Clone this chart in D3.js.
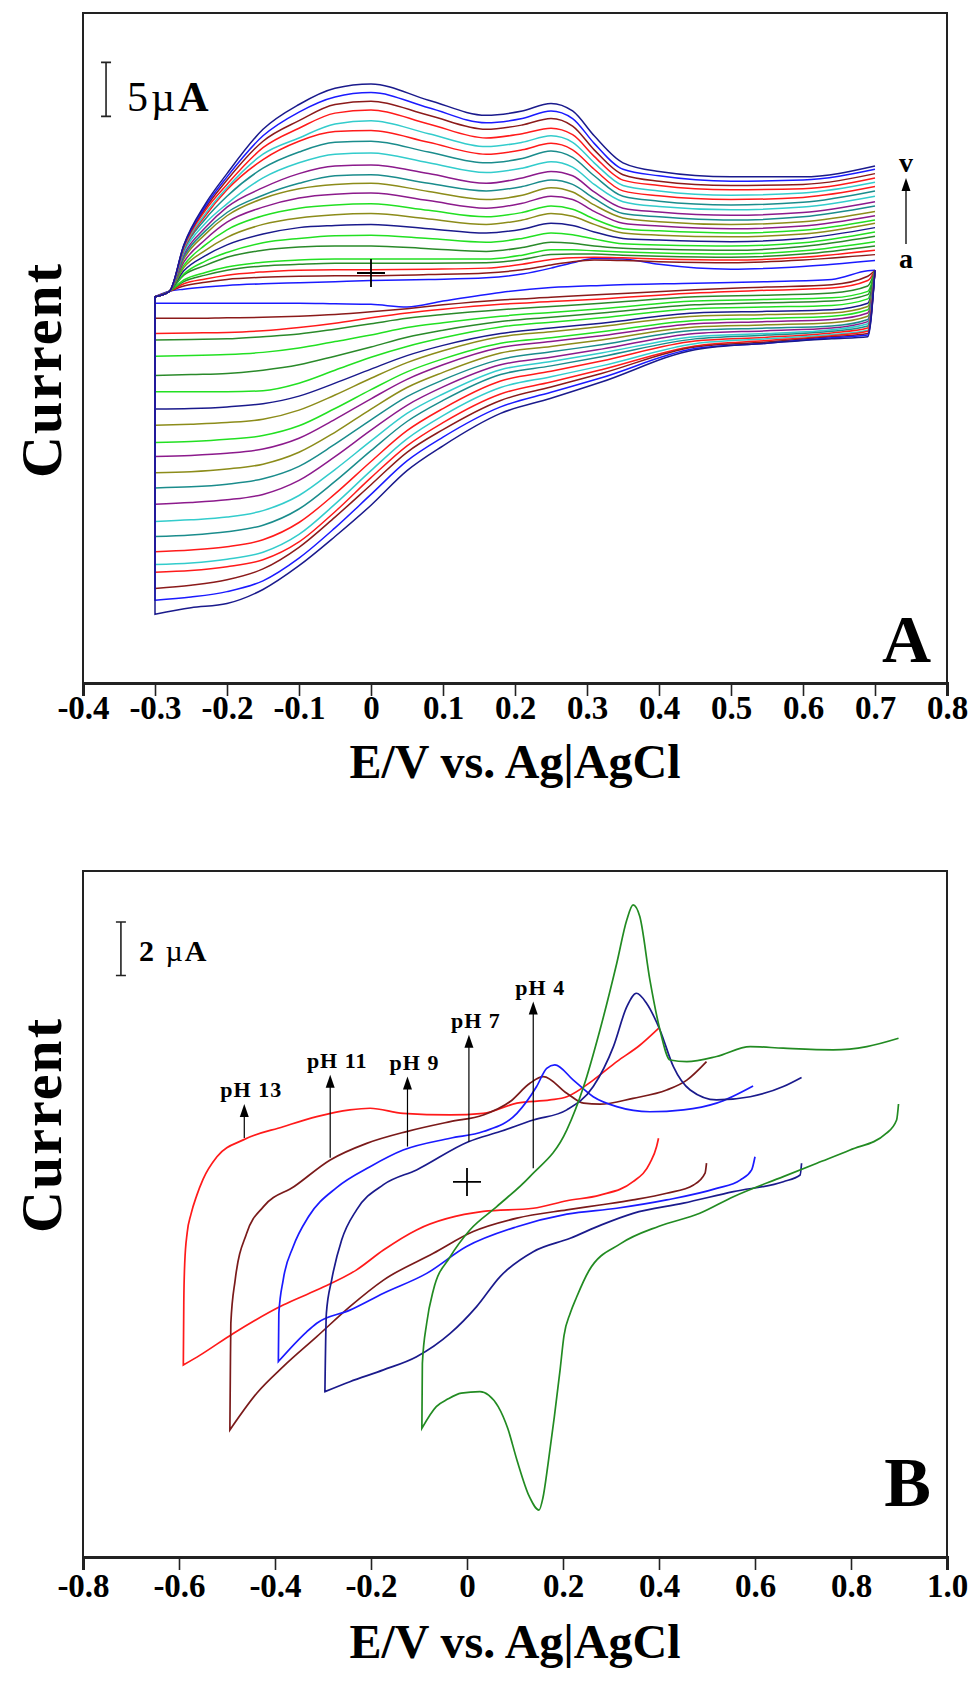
<!DOCTYPE html>
<html>
<head>
<meta charset="utf-8">
<script src="https://cdn.jsdelivr.net/npm/d3@7"></script>
<style>
  body { margin: 0; background: #fff; }
  svg text { font-family: "Liberation Serif", "Times New Roman", serif; font-weight: bold; fill: #000; }
</style>
</head>
<body>
<svg id="chart" width="972" height="1681"></svg>
<script>
// ---------- panel A : CVs at increasing scan rate (curves a ... v) ----------
var scanNames = ["a","b","c","d","e","f","g","h","i","j","k","l","m","n","o","p","q","r","s","t","u","v"];
var scanColors = ["#1a1aff","#8b1a1a","#ff1a1a","#2a8a2a","#22e022","#2a8a2a","#22e022","#1a1a8c","#8c8c1a","#22e022","#8c1a8c",
                  "#8c8c1a","#1a8c8c","#8c1a8c","#33cccc","#1a8c8c","#ff1a1a","#33cccc","#ff1a1a","#8b1a1a","#1a1aff","#1a1a8c"];

// potentials (V) of the forward (anodic) sweep and of the return (cathodic) sweep
var anodicE = [-0.30,-0.28,-0.26,-0.23,-0.20,-0.15,-0.10,-0.05,0.00,0.08,0.16,0.21,0.25,0.28,0.31,0.35,0.40,0.50,0.60,0.70];
var cathodicE = [-0.30,-0.25,-0.20,-0.15,-0.10,-0.05,0.00,0.05,0.10,0.18,0.25,0.32,0.45,0.55,0.64,0.69,0.70];

// currents (uA), one row per curve
var anodicI = [
  [-2.2,-1.7,-1.5,-1.3,-1.15,-1.0,-0.9,-0.8,-0.7,-0.6,-0.45,-0.1,0.45,0.95,1.35,1.3,0.8,0.35,0.6,1.15],
  [-2.2,-1.7,-1.2,-0.85,-0.6,-0.4,-0.3,-0.25,-0.25,-0.15,0.0,0.3,0.75,1.05,1.2,1.15,1.05,0.95,1.2,1.7],
  [-2.2,-1.7,-1.0,-0.55,-0.2,0.1,0.25,0.3,0.3,0.35,0.45,0.8,1.25,1.4,1.45,1.4,1.3,1.2,1.45,2.1],
  [-2.2,-1.7,-0.8,-0.2,0.25,0.65,0.8,0.9,0.9,0.9,0.95,1.25,1.7,1.75,1.75,1.65,1.55,1.45,1.75,2.5],
  [-2.2,-1.7,-0.65,0.05,0.55,1.0,1.2,1.3,1.3,1.3,1.3,1.65,2.15,2.15,2.05,1.95,1.85,1.75,2.05,2.9],
  [-2.2,-1.7,-0.2,0.7,1.45,2.1,2.4,2.5,2.5,2.25,2.0,2.35,2.85,2.75,2.5,2.3,2.2,2.1,2.45,3.4],
  [-2.2,-1.7,-0.1,1.1,1.9,2.8,3.2,3.45,3.5,3.2,2.85,3.2,3.7,3.55,3.15,2.7,2.6,2.5,2.8,3.8],
  [-2.2,-1.7,0.2,1.6,2.6,3.6,4.2,4.4,4.5,4.1,3.7,4.05,4.6,4.4,3.8,3.2,3.05,2.9,3.2,4.2],
  [-2.2,-1.7,0.5,2.1,3.3,4.5,5.1,5.4,5.5,5.0,4.5,4.9,5.5,5.25,4.5,3.7,3.5,3.35,3.6,4.6],
  [-2.2,-1.7,0.7,2.6,4.0,5.3,6.0,6.3,6.4,5.8,5.2,5.6,6.2,5.9,5.0,4.1,3.9,3.7,3.95,4.9],
  [-2.2,-1.7,1.0,3.1,4.7,6.1,6.95,7.3,7.4,6.7,6.0,6.45,7.1,6.8,5.7,4.6,4.35,4.1,4.35,5.3],
  [-2.2,-1.7,1.3,3.6,5.3,6.9,7.8,8.2,8.3,7.55,6.8,7.2,7.9,7.5,6.3,5.1,4.75,4.5,4.75,5.7],
  [-2.2,-1.7,1.5,3.9,5.6,7.2,8.3,9.0,9.1,8.3,7.6,8.0,8.6,8.2,6.9,5.5,5.2,4.9,5.2,6.2],
  [-2.2,-1.7,1.7,4.2,6.1,7.9,9.2,9.9,10.0,9.2,8.3,8.8,9.4,9.0,7.5,6.0,5.65,5.35,5.6,6.6],
  [-2.2,-1.7,1.9,4.6,6.4,8.8,10.2,11.0,11.1,10.2,9.3,9.7,10.3,9.8,8.2,6.6,6.15,5.85,6.1,7.1],
  [-2.2,-1.7,2.1,5.0,7.1,9.7,11.2,12.1,12.2,11.2,10.2,10.6,11.3,10.7,9.0,7.1,6.65,6.3,6.55,7.6],
  [-2.2,-1.7,2.2,5.3,7.7,10.5,12.2,13.1,13.2,12.1,11.0,11.4,12.0,11.4,9.6,7.6,7.15,6.8,7.0,8.0],
  [-2.2,-1.7,2.3,5.5,7.9,11.0,12.5,13.8,14.1,12.9,11.7,12.1,12.7,12.1,10.2,8.1,7.6,7.2,7.4,8.4],
  [-2.2,-1.7,2.4,5.8,8.2,11.6,13.4,14.8,15.1,13.8,12.5,12.9,13.4,12.8,10.8,8.6,8.1,7.7,7.8,8.8],
  [-2.2,-1.7,2.5,6.0,8.6,12.2,14.1,15.6,15.9,14.6,13.3,13.7,14.3,13.6,11.4,9.1,8.5,8.1,8.2,9.2],
  [-2.2,-1.7,2.55,6.2,8.9,12.7,14.9,16.3,16.7,15.3,13.9,14.3,15.0,14.3,12.0,9.6,9.0,8.5,8.6,9.6],
  [-2.2,-1.7,2.6,6.4,9.2,13.3,15.6,17.1,17.5,16.0,14.6,15.0,15.7,15.0,12.7,10.2,9.4,8.9,8.9,9.9]
];
var cathodicI = [
  [-2.8,-2.8,-2.8,-2.8,-2.8,-2.85,-2.9,-3.15,-2.6,-1.8,-1.35,-1.15,-0.95,-0.8,-0.6,0.2,0.25],
  [-4.2,-4.2,-4.15,-4.1,-4.0,-3.85,-3.6,-3.3,-2.95,-2.5,-2.25,-2.0,-1.55,-1.3,-1.08,-0.3,0.25],
  [-5.6,-5.55,-5.5,-5.35,-5.05,-4.65,-4.15,-3.7,-3.35,-2.9,-2.65,-2.4,-1.85,-1.6,-1.4,-0.7,0.25],
  [-6.2,-6.15,-6.1,-5.9,-5.65,-5.2,-4.7,-4.2,-3.85,-3.4,-3.1,-2.8,-2.2,-2.05,-1.85,-1.2,0.25],
  [-7.7,-7.65,-7.55,-7.35,-6.95,-6.35,-5.75,-5.05,-4.6,-4.0,-3.65,-3.3,-2.6,-2.45,-2.3,-1.7,0.25],
  [-9.5,-9.4,-9.3,-9.0,-8.5,-7.7,-6.85,-5.95,-5.3,-4.5,-4.1,-3.7,-2.95,-2.75,-2.6,-2.0,0.25],
  [-11.0,-11.0,-11.0,-10.9,-10.2,-9.0,-7.8,-6.8,-6.0,-5.0,-4.55,-4.15,-3.3,-3.15,-3.0,-2.4,0.25],
  [-12.6,-12.55,-12.4,-12.1,-11.4,-10.2,-8.9,-7.65,-6.7,-5.6,-5.1,-4.65,-3.7,-3.55,-3.4,-2.8,0.25],
  [-14.1,-14.0,-13.85,-13.55,-12.7,-11.3,-9.75,-8.3,-7.2,-5.9,-5.45,-4.95,-4.0,-3.85,-3.7,-3.1,0.25],
  [-15.7,-15.6,-15.4,-15.05,-14.15,-12.55,-10.8,-9.15,-7.95,-6.5,-6.0,-5.45,-4.4,-4.2,-4.0,-3.4,0.25],
  [-17.0,-16.9,-16.7,-16.3,-15.3,-13.55,-11.65,-9.85,-8.5,-6.9,-6.35,-5.8,-4.7,-4.5,-4.3,-3.7,0.25],
  [-18.5,-18.4,-18.15,-17.7,-16.6,-14.75,-12.6,-10.6,-9.2,-7.4,-6.8,-6.2,-5.0,-4.8,-4.6,-4.0,0.25],
  [-19.9,-19.8,-19.55,-19.05,-17.9,-15.85,-13.6,-11.45,-9.9,-8.0,-7.3,-6.65,-5.3,-5.1,-4.9,-4.3,0.25],
  [-21.4,-21.25,-21.0,-20.5,-19.2,-17.0,-14.55,-12.25,-10.55,-8.5,-7.8,-7.05,-5.6,-5.35,-5.1,-4.5,0.25],
  [-23.0,-22.85,-22.6,-22.0,-20.6,-18.2,-15.55,-13.0,-11.2,-8.95,-8.2,-7.4,-5.9,-5.6,-5.25,-4.7,0.25],
  [-24.4,-24.25,-23.95,-23.35,-21.85,-19.3,-16.45,-13.75,-11.8,-9.4,-8.6,-7.75,-6.1,-5.75,-5.4,-4.9,0.25],
  [-25.8,-25.65,-25.35,-24.7,-23.1,-20.45,-17.45,-14.6,-12.55,-10.0,-9.1,-8.15,-6.3,-5.95,-5.55,-5.1,0.25],
  [-27.0,-26.85,-26.5,-25.85,-24.2,-21.4,-18.3,-15.35,-13.2,-10.6,-9.6,-8.6,-6.55,-6.1,-5.7,-5.3,0.25],
  [-27.7,-27.55,-27.2,-26.55,-24.9,-22.1,-18.95,-16.0,-13.85,-11.2,-10.1,-8.95,-6.75,-6.25,-5.8,-5.4,0.25],
  [-29.2,-28.9,-28.4,-27.4,-25.4,-22.6,-19.6,-16.6,-14.5,-11.8,-10.55,-9.3,-6.85,-6.4,-5.9,-5.6,0.25],
  [-30.3,-30.0,-29.5,-28.5,-26.4,-23.6,-20.5,-17.4,-15.2,-12.4,-11.05,-9.7,-7.0,-6.5,-6.0,-5.75,0.25],
  [-31.6,-31.0,-30.6,-29.3,-27.1,-24.4,-21.5,-18.3,-16.0,-13.0,-11.6,-10.1,-7.1,-6.5,-6.1,-5.9,0.25]
];
var ticksA = [-0.4,-0.3,-0.2,-0.1,0,0.1,0.2,0.3,0.4,0.5,0.6,0.7,0.8];
var tickLabelsA = ["-0.4","-0.3","-0.2","-0.1","0","0.1","0.2","0.3","0.4","0.5","0.6","0.7","0.8"];

// ---------- panel B : CVs at different pH (forward sweep first, then return sweep) ----------
var phNames = ["pH 13","pH 11","pH 9","pH 7","pH 4"];
var phColors = ["#ff1a1a","#7a1a1a","#1a1aff","#1a1a8c","#228b22"];
var phForwardCount = [23, 22, 21, 23, 25];
var ph13E = [-0.591,-0.590,-0.588,-0.583,-0.575,-0.563,-0.55,-0.521,-0.466,-0.383,-0.313,-0.244,-0.202,-0.133,-0.035,0.034,0.104,0.173,0.208,0.263,0.312,0.36,0.399,
             0.399,0.395,0.381,0.346,0.277,0.208,0.138,0.034,-0.105,-0.174,-0.23,-0.313,-0.383,-0.487,-0.556,-0.591];
var ph13I = [-6.83,-4.5,-3.0,-1.9,-1.2,-0.5,0.1,0.94,1.57,2.06,2.44,2.69,2.75,2.56,2.5,2.56,2.94,3.06,3.18,3.8,4.49,5.1,5.73,
             1.63,1.32,0.7,0.01,-0.49,-0.7,-0.98,-1.1,-1.79,-2.54,-3.28,-4.03,-4.59,-5.65,-6.46,-6.83];
var ph11E = [-0.494,-0.493,-0.492,-0.483,-0.459,-0.424,-0.36,-0.285,-0.209,-0.126,-0.035,0.034,0.09,0.131,0.159,0.208,0.243,0.277,0.346,0.416,0.458,0.499,
             0.499,0.496,0.472,0.416,0.346,0.277,0.208,0.104,0.013,-0.07,-0.174,-0.244,-0.313,-0.383,-0.438,-0.494];
var ph11I = [-9.25,-7.0,-5.27,-3.66,-1.91,-0.92,-0.17,0.82,1.44,1.88,2.25,2.5,3.0,3.68,3.93,3.31,2.94,2.9,3.12,3.43,3.8,4.49,
             0.7,0.33,-0.11,-0.42,-0.67,-0.86,-1.04,-1.35,-1.85,-2.66,-3.66,-4.65,-5.77,-6.89,-7.88,-9.25];
var ph9E = [-0.393,-0.392,-0.383,-0.362,-0.330,-0.271,-0.202,-0.133,-0.035,0.034,0.104,0.145,0.166,0.183,0.221,0.263,0.312,0.381,0.451,0.52,0.596,
            0.600,0.593,0.569,0.52,0.416,0.312,0.208,0.104,-0.001,-0.084,-0.174,-0.244,-0.313,-0.334,-0.393];
var ph9I = [-6.7,-4.9,-3.66,-2.41,-1.29,-0.2,0.57,1.19,1.63,1.88,2.56,3.56,4.24,4.37,3.81,3.18,2.81,2.62,2.69,2.94,3.58,
            0.94,0.45,0.07,-0.24,-0.67,-0.98,-1.2,-1.67,-2.41,-3.41,-4.15,-4.78,-5.27,-5.59,-6.7];
var ph7E = [-0.296,-0.293,-0.282,-0.261,-0.23,-0.174,-0.105,0.003,0.069,0.138,0.208,0.263,0.305,0.333,0.353,0.374,0.402,0.43,0.465,0.52,0.59,0.659,0.697,
            0.697,0.694,0.659,0.555,0.451,0.346,0.28,0.215,0.138,0.069,0.02,-0.035,-0.105,-0.174,-0.244,-0.296];
var ph7I = [-7.82,-4.9,-3.66,-2.16,-1.04,-0.1,0.45,1.5,1.88,2.31,2.69,3.56,5.05,6.54,7.04,6.67,5.67,4.3,3.43,3.06,3.18,3.56,3.9,
            0.7,0.26,0.01,-0.36,-0.79,-1.17,-1.6,-2.1,-2.6,-3.53,-4.65,-5.65,-6.52,-7.01,-7.45,-7.82];
var ph4E = [-0.094,-0.093,-0.084,-0.07,-0.035,0.006,0.062,0.131,0.208,0.243,0.277,0.312,0.333,0.346,0.36,0.381,0.402,0.423,0.458,0.52,0.59,0.659,0.763,0.833,0.899,
            0.899,0.895,0.874,0.798,0.729,0.659,0.555,0.485,0.40,0.32,0.254,0.228,0.215,0.202,0.194,0.182,0.169,0.158,0.15,0.13,0.104,0.085,0.065,0.045,0.027,-0.012,-0.04,-0.064,-0.094];
var ph4I = [-9.19,-6.77,-5.27,-4.03,-2.79,-1.79,-0.92,0.2,1.94,3.56,5.67,8.16,9.78,10.34,9.9,7.54,5.67,4.55,4.49,4.68,5.05,4.99,4.93,5.05,5.36,
            2.91,2.31,1.82,1.19,0.7,0.2,-0.55,-1.17,-1.65,-2.3,-3.31,-4.31,-4.9,-5.74,-7.0,-8.75,-10.5,-11.8,-12.24,-11.74,-10.37,-9.2,-8.38,-7.95,-7.82,-7.88,-8.1,-8.38,-9.19];
var phE = [ph13E, ph11E, ph9E, ph7E, ph4E];
var phI = [ph13I, ph11I, ph9I, ph7I, ph4I];
// arrows marking each curve: potential, arrow foot and tip (uA)
var phArrowE = [-0.464,-0.285,-0.124,0.004,0.138];
var phArrowFoot = [1.64,0.9,1.32,1.5,0.51];
var phArrowTip = [2.91,4.0,3.93,5.49,6.73];
var ticksB = [-0.8,-0.6,-0.4,-0.2,0,0.2,0.4,0.6,0.8,1.0];
var tickLabelsB = ["-0.8","-0.6","-0.4","-0.2","0","0.2","0.4","0.6","0.8","1.0"];

var svg = d3.select("#chart");

function zip(xs, ys) {
  return xs.map(function(x, i) { return [x, ys[i]]; });
}

// return sweep drawn first, then a straight jump to the forward sweep (vertical at the negative limit)
function loopPath(line, back, fwd) {
  return line(back) + line(fwd).replace(/^M/, "L");
}

function drawFrame(x, y, ticks, labels, cfg) {
  var g = svg.append("g");
  var r = x.range(), b = y.range();
  g.append("rect")
    .attr("x", r[0]).attr("y", b[1])
    .attr("width", r[1] - r[0]).attr("height", b[0] - b[1])
    .attr("fill", "none").attr("stroke", "#222").attr("stroke-width", 2);

  var axis = d3.axisBottom(x)
    .tickValues(ticks)
    .tickFormat(function(d, i) { return labels[i]; })
    .tickSize(13)
    .tickPadding(cfg.pad);
  var ax = g.append("g")
    .attr("transform", "translate(0," + b[0] + ")")
    .call(axis);
  ax.select(".domain").attr("stroke", "#222").attr("stroke-width", 3);
  ax.selectAll(".tick line").attr("stroke", "#222").attr("stroke-width", 1.6);
  ax.selectAll(".tick text")
    .attr("font-family", "'Liberation Serif', serif")
    .attr("font-weight", "bold")
    .attr("font-size", 33)
    .attr("fill", "#000");

  g.append("text")
    .attr("x", (r[0] + r[1]) / 2)
    .attr("y", cfg.titleY)
    .attr("text-anchor", "middle")
    .attr("font-size", 48)
    .text("E/V vs. Ag|AgCl");

  g.append("text")
    .attr("transform", "translate(61," + cfg.currentY + ") rotate(-90)")
    .attr("text-anchor", "middle")
    .attr("font-size", 58)
    .attr("letter-spacing", 2)
    .text("Current");

  g.append("text")
    .attr("x", r[1] - 16)
    .attr("y", cfg.letterY)
    .attr("text-anchor", "end")
    .attr("font-size", cfg.letterSize)
    .text(cfg.letter);
}

function drawCross(x, y) {
  var cx = x(0), cy = y(0);
  svg.append("path")
    .attr("d", "M" + (cx - 14) + "," + cy + "H" + (cx + 14) + "M" + cx + "," + (cy - 14) + "V" + (cy + 14))
    .attr("stroke", "#000").attr("stroke-width", 1.8).attr("fill", "none");
}

function drawScaleBar(x, y, e, lo, hi) {
  var px = x(e);
  svg.append("path")
    .attr("d", "M" + (px - 5) + "," + y(hi) + "H" + (px + 5) + "M" + px + "," + y(hi) + "V" + y(lo) + "M" + (px - 5) + "," + y(lo) + "H" + (px + 5))
    .attr("stroke", "#222").attr("stroke-width", 1.6).attr("fill", "none");
}

// ----- panel A -----
var xA = d3.scaleLinear().domain([-0.4, 0.8]).range([83, 947]);
var yA = d3.scaleLinear().domain([-37.96, 24.07]).range([683, 13]);

var lineA = d3.line()
  .x(function(d) { return xA(d[0]); })
  .y(function(d) { return yA(d[1]); })
  .curve(d3.curveMonotoneX);

var curvesA = svg.append("g").attr("class", "curves-a");
scanNames.forEach(function(name, k) {
  var fwd = zip(anodicE, anodicI[k]);
  var back = zip(cathodicE, cathodicI[k]).reverse();
  curvesA.append("path")
    .attr("d", loopPath(lineA, back, fwd))
    .attr("fill", "none")
    .attr("stroke", scanColors[k])
    .attr("stroke-width", 1.5);
});

drawFrame(xA, yA, ticksA, tickLabelsA, { titleY: 778, currentY: 370, letter: "A", letterSize: 68, letterY: 662, pad: 0 });
drawCross(xA, yA);
drawScaleBar(xA, yA, -0.368, 14.5, 19.5);
svg.append("text").attr("x", 127).attr("y", 111).attr("font-size", 42).attr("letter-spacing", 3)
  .html('<tspan font-weight="normal">5\u00b5</tspan><tspan>A</tspan>');

// a -> v arrow
var ax0 = 906;
svg.append("line").attr("x1", ax0).attr("x2", ax0).attr("y1", 244).attr("y2", 186)
  .attr("stroke", "#000").attr("stroke-width", 1.3);
svg.append("path").attr("d", "M" + ax0 + ",178L" + (ax0 - 4.5) + ",191L" + (ax0 + 4.5) + ",191Z").attr("fill", "#000");
svg.append("text").attr("x", ax0).attr("y", 172).attr("text-anchor", "middle").attr("font-size", 28).text(scanNames[scanNames.length - 1]);
svg.append("text").attr("x", ax0).attr("y", 268).attr("text-anchor", "middle").attr("font-size", 28).text(scanNames[0]);

// ----- panel B -----
var xB = d3.scaleLinear().domain([-0.8, 1.0]).range([83, 947]);
var yB = d3.scaleLinear().domain([-13.99, 11.6]).range([1557, 871]);

var lineB = d3.line()
  .x(function(d) { return xB(d[0]); })
  .y(function(d) { return yB(d[1]); })
  .curve(d3.curveMonotoneX);

var curvesB = svg.append("g").attr("class", "curves-b");
phNames.forEach(function(name, k) {
  var pts = zip(phE[k], phI[k]);
  var n = phForwardCount[k];
  var fwd = pts.slice(0, n);
  var back = pts.slice(n);
  curvesB.append("path")
    .attr("d", loopPath(lineB, back, fwd))
    .attr("fill", "none")
    .attr("stroke", phColors[k])
    .attr("stroke-width", 1.7);
});

drawFrame(xB, yB, ticksB, tickLabelsB, { titleY: 1658, currentY: 1125, letter: "B", letterSize: 70, letterY: 1506, pad: 4 });
drawCross(xB, yB);
drawScaleBar(xB, yB, -0.721, 7.7, 9.7);
svg.append("text").attr("x", 139).attr("y", 961).attr("font-size", 30).attr("letter-spacing", 2)
  .html('<tspan>2 </tspan><tspan font-weight="normal">\u00b5</tspan><tspan>A</tspan>');

phNames.forEach(function(name, k) {
  var px = xB(phArrowE[k]);
  var tip = yB(phArrowTip[k]);
  svg.append("line").attr("x1", px).attr("x2", px).attr("y1", yB(phArrowFoot[k])).attr("y2", tip + 10)
    .attr("stroke", "#000").attr("stroke-width", 1.2);
  svg.append("path").attr("d", "M" + px + "," + tip + "L" + (px - 4.5) + "," + (tip + 13) + "L" + (px + 4.5) + "," + (tip + 13) + "Z")
    .attr("fill", "#000");
  svg.append("text").attr("x", px + 7).attr("y", tip - 7).attr("text-anchor", "middle")
    .attr("font-size", 22).attr("letter-spacing", 1).text(name);
});
</script>
</body>
</html>
